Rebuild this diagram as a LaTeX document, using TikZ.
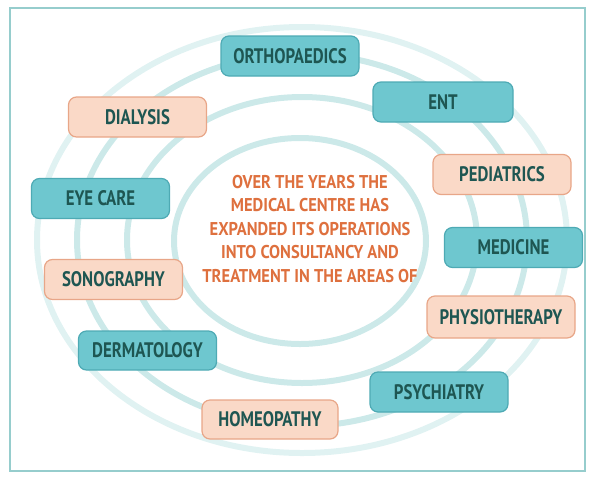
\documentclass[tikz,border=0pt]{standalone}
\usepackage{fontspec}
\setmainfont{PT Sans}[FakeStretch=0.8]
\newfontfamily\introfont{PT Sans}[FakeStretch=0.89]
\usepackage{xcolor}
\definecolor{tealfill}{RGB}{110,199,207}
\definecolor{tealline}{RGB}{78,170,180}
\definecolor{peachfill}{RGB}{250,217,199}
\definecolor{peachline}{RGB}{232,166,136}
\definecolor{labeltext}{RGB}{30,86,82}
\definecolor{ringteal}{RGB}{204,233,233}
\definecolor{frameteal}{RGB}{150,205,205}
\definecolor{introtext}{RGB}{222,112,62}

\begin{document}
\begin{tikzpicture}[x=1pt, y=-1pt,
    every node/.style={rounded corners=8pt, line width=1.2pt, minimum width=138pt, minimum height=40pt,
        text=labeltext, font=\fontsize{21}{25}\selectfont\bfseries},
    tealbox/.style={draw=tealline, fill=tealfill},
    peachbox/.style={draw=peachline, fill=peachfill},
    ring/.style={draw=ringteal, line width=6pt}]
    \useasboundingbox (0,0) rectangle (591,477);
    \draw [frameteal, line width=2pt] (10,8) rectangle (585,471);

    % rings round the middle text
    \draw [ring, draw=ringteal!60] (302,240) ellipse [x radius=265pt, y radius=213pt];
    \draw [ring] (302,240) ellipse [x radius=225pt, y radius=186pt];
    \draw [ring] (302,240) ellipse [x radius=175pt, y radius=143pt];
    \draw [ring] (300,241) ellipse [x radius=126pt, y radius=103pt];

    \node [align=center, text=introtext, rounded corners=0pt, font=\introfont\fontsize{18.5}{23.5}\selectfont\bfseries] (intro) at (310,229)
        {OVER THE YEARS THE\\MEDICAL CENTRE HAS\\EXPANDED ITS OPERATIONS\\INTO CONSULTANCY AND\\TREATMENT IN THE AREAS OF};

    \node [tealbox] (ortho) at (290,56) {ORTHOPAEDICS};
    \node [tealbox, minimum width=140pt] (ent) at (443,102) {ENT};
    \node [peachbox] (dialysis) at (137.5,117) {DIALYSIS};
    \node [peachbox] (pediatrics) at (502,174.5) {PEDIATRICS};
    \node [tealbox] (eyecare) at (100.5,198.5) {EYE CARE};
    \node [tealbox] (medicine) at (513.5,247.5) {MEDICINE};
    \node [peachbox] (sonography) at (113.5,279.5) {SONOGRAPHY};
    \node [peachbox, minimum width=148pt, minimum height=42pt] (physio) at (501,317) {PHYSIOTHERAPY};
    \node [tealbox, minimum height=39pt] (derma) at (147.5,350.5) {DERMATOLOGY};
    \node [tealbox] (psych) at (439,392) {PSYCHIATRY};
    \node [peachbox, minimum width=136pt, minimum height=39pt] (homeo) at (270,419.5) {HOMEOPATHY};
\end{tikzpicture}
\end{document}
